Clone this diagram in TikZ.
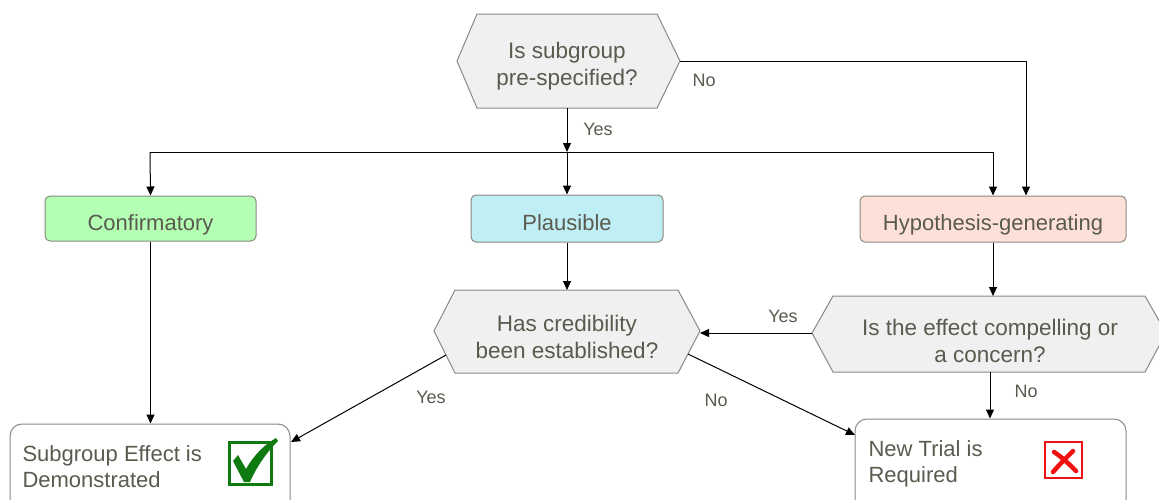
\documentclass[tikz,border=0pt]{standalone}
\usepackage{fontspec}
\setmainfont{Liberation Sans}
\usetikzlibrary{arrows.meta}
\definecolor{txt}{HTML}{5A5A4F}
\definecolor{edgec}{HTML}{8A8A80}
\definecolor{hexfill}{HTML}{F0F0F0}
\definecolor{cgreen}{HTML}{B3FFB3}
\definecolor{cblue}{HTML}{C0EEF5}
\definecolor{cpink}{HTML}{FDE1D8}
\definecolor{okgreen}{HTML}{0F7A0F}
\definecolor{badred}{HTML}{F01010}
\newcommand{\boxlabel}[1]{\raisebox{-11.5pt}[0pt][0pt]{#1}}
\tikzset{
  box/.style={draw=edgec, line width=1pt, rounded corners=5pt, inner sep=0pt, text=txt,
     font=\fontsize{22}{27}\selectfont},
  endbox/.style={draw=edgec, line width=1pt, rounded corners=12pt, fill=white, inner sep=0pt},
  hexa/.style={draw=edgec, line width=1pt, fill=hexfill},
  qtext/.style={text=txt, align=center, font=\fontsize{22.5}{27}\selectfont},
  ftext/.style={text=txt, align=left, anchor=west, font=\fontsize{22}{26}\selectfont},
  lbl/.style={text=txt, font=\fontsize{18}{22}\selectfont, inner sep=0pt},
  conn/.style={line width=1pt, -{Triangle[length=9pt,width=8pt]}},
  line/.style={line width=1pt},
}
\begin{document}
\begin{tikzpicture}[x=1pt,y=-1pt]
\useasboundingbox (0,0) rectangle (1159,499);
\clip (0,0) rectangle (1159,499);
\fill[white] (0,0) rectangle (1159,499);

% hexagon 1
\draw[hexa] (457,61) coordinate (q1W) -- (477,14) -- (657,14) -- (680,61) coordinate (q1E)
   -- (657,108) -- (477,108) -- cycle;
\coordinate (q1S) at (567,108);
\node[qtext] (q1) at (567,66) {Is subgroup\\pre-specified?};

% hexagon 2
\draw[hexa] (434,331) -- (455,290) -- (678,290) -- (700,331) coordinate (q2E)
   -- (678,373) -- (455,373) -- cycle;
\coordinate (q2N) at (567,290);
\coordinate (q2SW) at (446,355);
\coordinate (q2SE) at (688,354);
\node[qtext] (q2) at (567,337) {Has credibility\\been established?};

% hexagon 3
\draw[hexa] (812,333) coordinate (q3W) -- (833,296) -- (1145,296) -- (1166,333)
   -- (1145,372) -- (833,372) -- cycle;
\coordinate (q3N) at (993,296);
\coordinate (q3S) at (990,372);
\node[qtext] (q3) at (990,341) {Is the effect compelling or\\a concern?};

% category boxes
\node[box, fill=cgreen, minimum width=211pt, minimum height=45pt] (conf) at (150.5,218.5) {\boxlabel{Confirmatory}};
\node[box, fill=cblue, minimum width=192pt, minimum height=47pt] (plaus) at (567,218.5) {\boxlabel{Plausible}};
\node[box, fill=cpink, minimum width=266pt, minimum height=46pt] (hyp) at (993,219) {\boxlabel{Hypothesis-generating}};

% end boxes
\node[endbox, minimum width=280pt, minimum height=92pt] (sub) at (150,470) {};
\node[ftext] (subt) at (19,467) {Subgroup Effect is\\Demonstrated};
\node[endbox, minimum width=271pt, minimum height=92pt] (trial) at (990.5,465) {};
\node[ftext] (trialt) at (865,463.5) {New Trial is\\Required};

% check mark icon
\draw[okgreen, line width=3pt] (229.5,442) rectangle (271.5,484);
\fill[okgreen] (233,461) -- (238,455) -- (246,469) .. controls (254,455) and (264,445) .. (276,438)
   -- (278,441) .. controls (267,452) and (257,466) .. (250,482) -- (244,482) -- cycle;

% cross icon
\draw[badred, line width=2.5pt] (1045,442) rectangle (1082,478);
\draw[badred, line width=4.5pt, line cap=round] (1054,452) .. controls (1062,457) and (1070,465) .. (1076,471);
\draw[badred, line width=4.5pt, line cap=round] (1073,451) .. controls (1066,458) and (1058,466) .. (1053,472);

% bus
\coordinate (busL) at (150,152);
\coordinate (busM) at (567,152);
\coordinate (busR) at (993,152);
\draw[line] (busL) -- (busR);
\draw[conn] (q1S) -- (busM);
\draw[conn] (busL) -- (conf.north);
\draw[conn] (busM) -- (plaus.north);
\draw[conn] (busR) -- (busR |- hyp.north);
\coordinate (noTurn) at (1026,61);
\draw[conn] (q1E) -- (noTurn) -- (noTurn |- hyp.north);

\draw[conn] (conf.south) -- (conf.south |- sub.north);
\draw[conn] (plaus.south) -- (q2N);
\draw[conn] (hyp.south -| q3N) -- (q3N);
\draw[conn] (q3W) -- (q2E |- q3W);
\draw[conn] (q3S) -- (q3S |- trial.north);
\coordinate (subR) at (291,442);
\coordinate (trialL) at (855,435);
\draw[conn] (q2SW) -- (subR);
\draw[conn] (q2SE) -- (trialL);

% labels
\node[lbl] (lNo1) at (704,80) {No};
\node[lbl] (lYes1) at (598,129) {Yes};
\node[lbl] (lYes2) at (783,316) {Yes};
\node[lbl] (lNo2) at (1026,391) {No};
\node[lbl] (lYes3) at (431,397) {Yes};
\node[lbl] (lNo3) at (716,400) {No};
\end{tikzpicture}
\end{document}
